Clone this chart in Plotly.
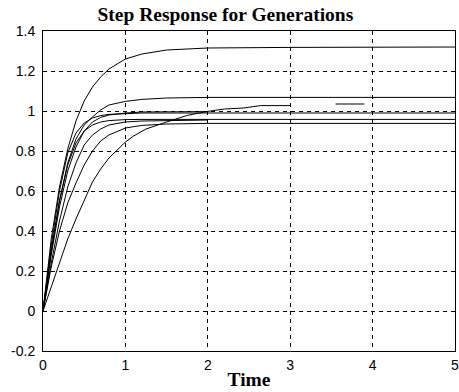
import plotly.graph_objects as go

# time samples (s) used by most curves
t_common = [0, 0.1, 0.2, 0.3, 0.4, 0.5, 0.6, 0.7, 0.8, 1.0, 1.2, 1.5, 2.0, 3.0, 5.0]

gen1 = [0, 0.36, 0.62, 0.81, 0.95, 1.05, 1.12, 1.17, 1.21, 1.26, 1.285, 1.305, 1.315, 1.318, 1.32]
gen2 = [0, 0.30, 0.55, 0.74, 0.86, 0.93, 0.97, 1.005, 1.03, 1.048, 1.058, 1.065, 1.068, 1.068, 1.068]
gen3 = [0, 0.33, 0.60, 0.79, 0.89, 0.94, 0.965, 0.977, 0.983, 0.988, 0.99, 0.99, 0.99, 0.99, 0.99]
gen4 = [0, 0.28, 0.52, 0.70, 0.82, 0.90, 0.945, 0.968, 0.98, 0.99, 0.995, 0.997, 0.997]
gen5 = [0, 0.30, 0.55, 0.73, 0.84, 0.90, 0.93, 0.945, 0.952, 0.957, 0.958, 0.958, 0.958, 0.958, 0.958]
gen6 = [0, 0.24, 0.45, 0.62, 0.74, 0.83, 0.88, 0.91, 0.93, 0.945, 0.95, 0.953, 0.955]
gen7 = [0, 0.22, 0.40, 0.54, 0.64, 0.73, 0.80, 0.85, 0.88, 0.915, 0.928, 0.935, 0.938, 0.938, 0.938]

t_slow = [0, 0.1, 0.2, 0.3, 0.4, 0.5, 0.6, 0.7, 0.8, 0.9, 1.0, 1.1, 1.25, 1.5, 1.75,
          2.0, 2.2, 2.43, 2.64, 3.0, None, 3.55, 3.9]
gen8 = [0, 0.12, 0.24, 0.36, 0.46, 0.555, 0.645, 0.71, 0.765, 0.805, 0.845, 0.875, 0.91,
        0.945, 0.978, 0.998, 1.01, 1.015, 1.027, 1.027, None, 1.035, 1.035]

x_ticks = [0, 1, 2, 3, 4, 5]
x_ticktext = ["0", "1", "2", "3", "4", "5"]
y_ticks = [-0.2, 0, 0.2, 0.4, 0.6, 0.8, 1.0, 1.2, 1.4]
y_ticktext = ["-0.2", "0", "0.2", "0.4", "0.6", "0.8", "1", "1.2", "1.4"]

series = [
    (t_common, gen1), (t_common, gen2), (t_common, gen3), (t_common[:len(gen4)], gen4),
    (t_common, gen5), (t_common[:len(gen6)], gen6), (t_common, gen7), (t_slow, gen8),
]

fig = go.Figure()
for tx, vy in series:
    fig.add_trace(go.Scatter(x=tx, y=vy, mode="lines", connectgaps=False,
                             line=dict(color="black", width=1), showlegend=False,
                             hoverinfo="skip"))

tick_font = dict(family="Liberation Sans, Arial, sans-serif", size=14, color="black")
serif_font = dict(family="Liberation Serif, Times New Roman, serif", size=19.5, color="black")
fig.update_layout(
    width=459, height=392,
    margin=dict(l=43, r=4, t=31, b=41),
    paper_bgcolor="white", plot_bgcolor="white",
    title=dict(text="<b>Step Response for Generations</b>", xref="container", x=0.491,
               xanchor="center", yref="container", y=0.963, yanchor="middle",
               font=serif_font),
    showlegend=False,
)
fig.update_xaxes(
    range=[0, 5], tickvals=x_ticks, ticktext=x_ticktext, tickfont=tick_font,
    showgrid=True, gridcolor="black", gridwidth=1, griddash="4px,4px",
    showline=True, linecolor="black", linewidth=1, mirror=True,
    zeroline=False, ticks="", ticklabelstandoff=1, ticklabeloverflow="allow",
    automargin=False,
    title=dict(text="<b>Time</b>", standoff=0, font=serif_font),
)
fig.update_yaxes(
    range=[-0.2, 1.4], tickvals=y_ticks, ticktext=y_ticktext, tickfont=tick_font,
    showgrid=True, gridcolor="black", gridwidth=1, griddash="4px,4px",
    showline=True, linecolor="black", linewidth=1, mirror=True,
    zeroline=False, ticks="", ticklabelstandoff=4, automargin=False,
)

fig.write_html("out.html")
